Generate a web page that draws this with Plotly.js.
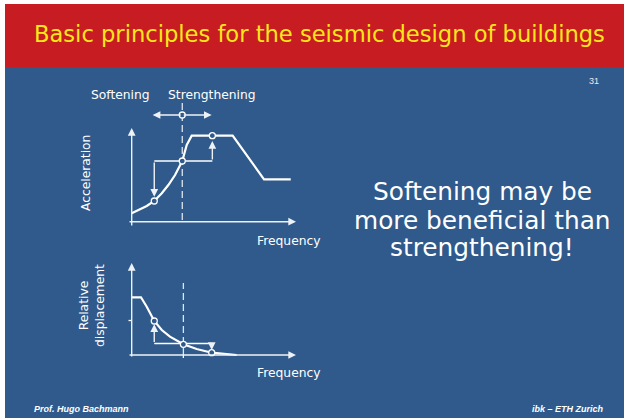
<!DOCTYPE html>
<html>
<head>
<meta charset="utf-8">
<script src="https://cdn.plot.ly/plotly-3.0.1.min.js"></script>
<style>
  html, body { margin: 0; padding: 0; background: #fff; }
  #slide { width: 624px; height: 418px; }
</style>
</head>
<body>
<div id="slide"></div>
<script>
// top diagram: acceleration spectrum (frequency / acceleration, arbitrary units)
var accFreq = [0, 0.94, 1.41, 1.88, 2.29, 2.71, 3.16, 3.44, 3.75, 6.31, 8.27, 9.94];
var accVal  = [0.84, 1.57, 2.07, 2.84, 3.67, 4.67, 6.07, 7.67, 8.6, 8.6, 4.24, 4.24];
var accPtsX = [1.41, 3.16, 5.04];
var accPtsY = [2.07, 6.07, 8.6];
var accStepX = [1.41, 5.04];
var accStepY = [6.07, 6.07];
var accDashX = [3.16, 3.16];
var accDashY = [0.17, 11.87];

// bottom diagram: relative displacement spectrum
var dispFreq = [0, 0.58, 0.94, 1.41, 1.88, 2.39, 3.23, 4.06, 5.0, 6.56];
var dispVal  = [5.77, 5.77, 4.83, 3.4, 2.5, 1.83, 1.07, 0.6, 0.23, 0];
var dispPtsX = [1.41, 3.23, 5.0];
var dispPtsY = [3.4, 1.07, 0.23];
var dispStepX = [1.41, 5.0];
var dispStepY = [1.15, 1.15];
var dispDashX = [3.23, 3.23];
var dispDashY = [0, 7.2];

// arrows: [x from, y from, x to, y to]
var accArrows = [
  [-0.23, 0, 10.27, 0],      // frequency axis
  [0, -0.53, 0, 9.37],       // acceleration axis
  [1.41, 6.07, 1.41, 2.5],   // softening
  [5.04, 6.07, 5.04, 8.07],  // strengthening
  [3.16, 10.67, 1.31, 10.67],
  [3.16, 10.67, 5.0, 10.67]
];
var dispArrows = [
  [-0.23, 0, 10.27, 0],
  [0, -0.3, 0, 9.2],
  [1.41, 1.15, 1.41, 3.07],
  [5.0, 1.15, 5.0, 0.5]
];

var message = ['Softening may be', 'more beneficial than', 'strengthening!'];

var BLUE = '#2F5A8B';
var RED = '#C71C22';
var YELLOW = '#FAE61A';
var FONT = 'DejaVu Sans, sans-serif';
var W = 624, H = 418;
function px(x) { return x / W; }
function py(y) { return 1 - y / H; }

// axis pixel frames
var X0 = 131.7, XS = 16;
var Y0top = 221.7, Y0bot = 355, YS = 10;

var lineW = { color: '#ffffff', width: 2.2 };
var thin = { color: '#ffffff', width: 1.3 };
var dashL = { color: '#dfe6ef', width: 1.3, dash: '7px,4px' };
var circ = { size: 6, color: BLUE, line: { color: '#ffffff', width: 1.3 } };

var data = [
  { x: accFreq, y: accVal, mode: 'lines', line: lineW, xaxis: 'x', yaxis: 'y' },
  { x: accStepX, y: accStepY, mode: 'lines', line: thin, xaxis: 'x', yaxis: 'y' },
  { x: accDashX, y: accDashY, mode: 'lines', line: dashL, xaxis: 'x', yaxis: 'y' },
  { x: accPtsX, y: accPtsY, mode: 'markers', marker: circ, xaxis: 'x', yaxis: 'y' },
  { x: [3.16], y: [10.67], mode: 'markers', marker: circ, xaxis: 'x', yaxis: 'y' },
  { x: dispFreq, y: dispVal, mode: 'lines', line: lineW, xaxis: 'x2', yaxis: 'y2' },
  { x: dispStepX, y: dispStepY, mode: 'lines', line: thin, xaxis: 'x2', yaxis: 'y2' },
  { x: dispDashX, y: dispDashY, mode: 'lines', line: dashL, xaxis: 'x2', yaxis: 'y2' },
  { x: [-0.2, 0], y: [3.45, 3.45], mode: 'lines', line: thin, xaxis: 'x2', yaxis: 'y2' },
  { x: [3.23, 3.23], y: [0, -0.3], mode: 'lines', line: thin, xaxis: 'x2', yaxis: 'y2' },
  { x: dispPtsX, y: dispPtsY, mode: 'markers', marker: circ, xaxis: 'x2', yaxis: 'y2' }
];

var annotations = [];
function addArrows(list, xr, yr) {
  list.forEach(function (a) {
    annotations.push({
      x: a[2], y: a[3], ax: a[0], ay: a[1],
      xref: xr, yref: yr, axref: xr, ayref: yr,
      showarrow: true, arrowhead: 2, arrowsize: 1.1, arrowwidth: 1.4,
      arrowcolor: '#eef2f7', text: ''
    });
  });
}
addArrows(accArrows, 'x', 'y');
addArrows(dispArrows, 'x2', 'y2');

function txt(t, x, y, size, opts) {
  var a = {
    text: t, x: px(x), y: py(y), xref: 'paper', yref: 'paper',
    showarrow: false, xanchor: 'center', yanchor: 'middle',
    font: { family: FONT, size: size, color: '#ffffff' }
  };
  for (var k in opts) a[k] = opts[k];
  return a;
}
annotations.push(txt('Basic principles for the seismic design of buildings', 319, 34, 22.6,
  { font: { family: FONT, size: 22.6, color: YELLOW } }));
annotations.push(txt('31', 594, 81, 9, { font: { family: 'Liberation Sans', size: 9, color: '#e6ebf2' } }));
annotations.push(txt('Softening', 120, 95, 12.3));
annotations.push(txt('Strengthening', 212, 95, 12.3));
annotations.push(txt('Acceleration', 86, 173, 12.3, { textangle: -90 }));
annotations.push(txt('Frequency', 289, 241, 12.3));
annotations.push(txt('Relative<br>displacement', 92, 306, 12.3, { textangle: -90 }));
annotations.push(txt('Frequency', 289, 373, 12.3));
var lineY = [192, 220, 247];
message.forEach(function (m, i) { annotations.push(txt(m, 482, lineY[i], 24.8)); });
annotations.push(txt('<b><i>Prof. Hugo Bachmann</i></b>', 32, 409, 9,
  { xanchor: 'left', font: { family: 'Liberation Sans', size: 9, color: '#ffffff' } }));
annotations.push(txt('<b><i>ibk – ETH Zurich</i></b>', 606, 409, 9,
  { xanchor: 'right', font: { family: 'Liberation Sans', size: 9, color: '#ffffff' } }));

var hidden = { visible: false, fixedrange: true, showgrid: false, zeroline: false };
function ax(extra) { var o = {}; for (var k in hidden) o[k] = hidden[k]; for (var j in extra) o[j] = extra[j]; return o; }

var layout = {
  width: W, height: H,
  margin: { l: 0, r: 0, t: 0, b: 0 },
  paper_bgcolor: '#ffffff', plot_bgcolor: 'rgba(0,0,0,0)',
  showlegend: false,
  xaxis: ax({ domain: [px(120), px(300)], range: [(120 - X0) / XS, (300 - X0) / XS], anchor: 'y' }),
  yaxis: ax({ domain: [py(230), py(100)], range: [(Y0top - 230) / YS, (Y0top - 100) / YS], anchor: 'x' }),
  xaxis2: ax({ domain: [px(120), px(300)], range: [(120 - X0) / XS, (300 - X0) / XS], anchor: 'y2' }),
  yaxis2: ax({ domain: [py(365), py(260)], range: [(Y0bot - 365) / YS, (Y0bot - 260) / YS], anchor: 'x2' }),
  shapes: [
    { type: 'rect', xref: 'paper', yref: 'paper', x0: px(5), x1: 1, y0: 0, y1: py(67),
      fillcolor: BLUE, line: { width: 0 }, layer: 'below' },
    { type: 'rect', xref: 'paper', yref: 'paper', x0: px(5), x1: 1, y0: py(67), y1: py(4),
      fillcolor: RED, line: { width: 0 }, layer: 'below' }
  ],
  annotations: annotations
};

Plotly.newPlot('slide', data, layout, { staticPlot: true, displayModeBar: false });
</script>
</body>
</html>
